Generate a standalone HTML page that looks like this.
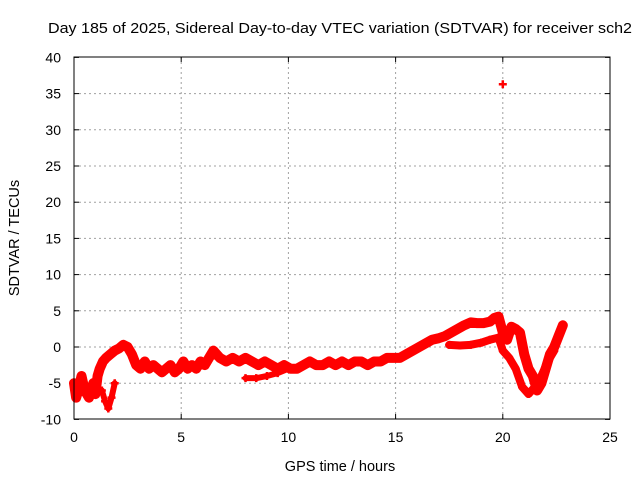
<!DOCTYPE html>
<html><head><meta charset="utf-8"><style>
body{margin:0;background:#fff;}
svg{display:block;font-family:"Liberation Sans",sans-serif;}
</style></head><body>
<svg id="chart" width="640" height="480" viewBox="0 0 640 480">
<text x="48" y="33" font-size="15" textLength="584" lengthAdjust="spacingAndGlyphs">Day 185 of 2025, Sidereal Day-to-day VTEC variation (SDTVAR) for receiver sch2</text>
<text x="340" y="471" font-size="14.5" text-anchor="middle">GPS time / hours</text>
<text x="19" y="238" font-size="14.5" text-anchor="middle" transform="rotate(-90 19 238)">SDTVAR / TECUs</text>
<g id="grid"></g><g id="ticks"></g><g id="marks"></g>
<rect x="74" y="57" width="536" height="362" fill="none" stroke="#000" stroke-width="1"/>
</svg>
<script>
const xTicks=[0,5,10,15,20,25];
const yTicks=[-10,-5,0,5,10,15,20,25,30,35,40];
// main upper branch: [hours, TECU]
const mainT=[0,0.1,0.2,0.35,0.5,0.7,0.9,1.0,1.1,1.2,1.35,1.5,1.7,1.9,2.1,2.3,2.5,2.7,2.9,3.1,3.3,3.5,3.7,3.9,4.1,4.3,4.5,4.7,4.9,5.1,5.3,5.5,5.7,5.9,6.1,6.3,6.5,6.8,7.1,7.4,7.7,8.0,8.3,8.6,8.9,9.2,9.5,9.8,10.1,10.4,10.7,11.0,11.3,11.6,11.9,12.2,12.5,12.8,13.1,13.4,13.7,14.0,14.3,14.6,14.9,15.2,15.5,15.8,16.1,16.4,16.7,17.0,17.3,17.6,17.9,18.2,18.5,18.8,19.1,19.4,19.6,19.8,20.0,20.2,20.4,20.6,20.8,21.0,21.2,21.4,21.6,21.8,22.0,22.2,22.4,22.6,22.8];
const mainV=[-5,-7,-6,-4,-6,-7,-5,-6.5,-4,-3,-2,-1.5,-1,-0.5,-0.2,0.3,0,-1,-2.5,-3,-2,-3,-2.5,-3,-3.5,-3,-2.5,-3.5,-3,-2,-3,-2.5,-3,-2,-2.5,-1.5,-0.5,-1.5,-2,-1.5,-2,-1.5,-2,-2.5,-2,-2.5,-3,-2.5,-3,-3,-2.5,-2,-2.5,-2.5,-2,-2.5,-2,-2.5,-2,-2,-2.5,-2,-2,-1.5,-1.5,-1.5,-1,-0.5,0,0.5,1,1.2,1.5,2,2.5,3,3.4,3.3,3.3,3.5,4,4.2,2,1,2.8,2.5,2,-1,-3,-4,-6,-5,-3,-1,0,1.5,3,4,3.8];
// lower branch near 18-21h
const lowT=[17.5,18.0,18.5,19.0,19.4,19.8,20.0,20.3,20.6,20.9,21.2,21.5,21.8,22.1,22.4];
const lowV=[0.3,0.2,0.3,0.6,1,1.3,-0.5,-1.5,-3,-5.5,-6.5,-5.5,-4,-2,-0.5];
// dip near 1.5h and lower band 8-10h
const dipT=[1.3,1.45,1.6,1.75,1.9];
const dipV=[-6,-7.5,-8.5,-7,-5];
const bandT=[8.0,8.5,9.0,9.5,10.0];
const bandV=[-4.3,-4.3,-4,-3.6,-3];
const outT=[20.0];
const outV=[36.3];
const X=t=>74+t*536/25, Y=v=>347-v*7.24;
const NS='http://www.w3.org/2000/svg';
function mk(tag,attrs,parent){const e=document.createElementNS(NS,tag);for(const k in attrs)e.setAttribute(k,attrs[k]);parent.appendChild(e);return e;}
const grid=document.getElementById('grid'),ticks=document.getElementById('ticks'),marks=document.getElementById('marks');
xTicks.forEach(t=>{const x=X(t);
 if(t>0&&t<25){const g=mk('line',{x1:x,x2:x,y1:57,y2:419,stroke:'#a0a0a0','stroke-dasharray':'2,3'},grid);
 
 }
 const tx=mk('text',{x:x,y:442,'font-size':14,'text-anchor':'middle'},ticks);tx.textContent=t;
 
 
 mk('line',{x1:x,x2:x,y1:419,y2:414,stroke:'#000'},ticks);mk('line',{x1:x,x2:x,y1:57,y2:62,stroke:'#000'},ticks);});
yTicks.forEach(v=>{const y=Y(v);
 if(v>-10&&v<40){const g=mk('line',{x1:74,x2:610,y1:y,y2:y,stroke:'#a0a0a0','stroke-dasharray':'2,3'},grid);
 
 }
 const tx=mk('text',{x:61,y:y+5,'font-size':14,'text-anchor':'end'},ticks);tx.textContent=v;
 
 
 mk('line',{x1:74,x2:79,y1:y,y2:y,stroke:'#000'},ticks);mk('line',{x1:605,x2:610,y1:y,y2:y,stroke:'#000'},ticks);});
function series(T,V,name,w){
 const pts=T.map((t,i)=>X(t)+','+Y(V[i])).join(' ');
 if(T.length>1){const p=mk('polyline',{points:pts,fill:'none',stroke:'#f00','stroke-width':w,'stroke-linejoin':'round','stroke-linecap':'round'},marks);
 
 }
 T.forEach((t,i)=>{const x=X(t),y=Y(V[i]);
  const m=mk('path',{d:`M${x-4},${y}h8M${x},${y-4}v8`,stroke:'#f00','stroke-width':2.5},marks);
  
  });
}
series(mainT,mainV,'sdtvar-main',10);
series(lowT,lowV,'sdtvar-lower',8);
series(dipT,dipV,'sdtvar-dip',6);
series(bandT,bandV,'sdtvar-band',6);
series(outT,outV,'sdtvar-outlier',0);
</script>
</body></html>
